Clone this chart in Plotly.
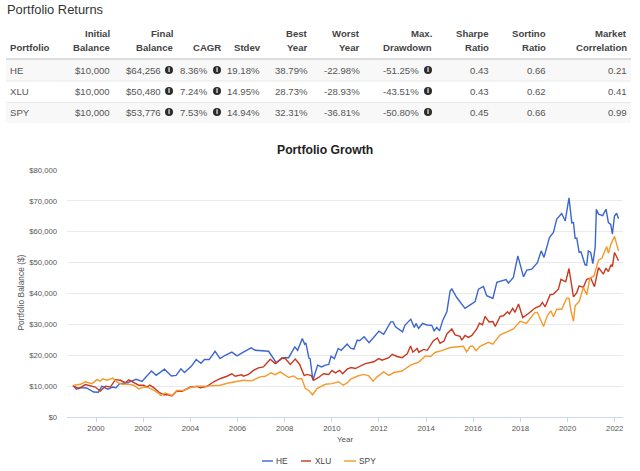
import plotly.graph_objects as go

HE_YEAR = [1999.02,1999.17,1999.3,1999.6,1999.9,2000.1,2000.25,2000.5,2000.7,2000.85,2001.0,2001.3,2001.7,2001.95,2002.35,2002.55,2002.75,2002.9,2003.2,2003.4,2003.6,2003.75,2004.05,2004.25,2004.45,2004.6,2004.8,2005.05,
2005.26,2005.48,2005.76,2005.98,2006.25,2006.58,2006.75,2007.32,2007.65,2007.93,2008.17,2008.43,2008.55,2008.75,2008.85,2008.9,2009.03,2009.08,2009.2,2009.4,2009.56,2009.73,2009.87,2009.97,2010.11,2010.27,2010.4,2010.65,2010.8,2010.94,2011.08,2011.18,2011.37,2011.58,2011.8,2012.0,2012.2,2012.5,2012.6,2012.7,2013.0,2013.1,2013.35,2013.5,2013.57,2013.68,2013.85,2014.03,2014.24,2014.34,2014.45,2014.57,2014.7,2014.88,2015.02,2015.09,2015.3,2015.51,2015.65,2015.87,2016.08,2016.22,2016.43,2016.57,2016.83,2017.0,2017.39,2017.49,2017.7,2017.89,2018.13,2018.27,2018.48,2018.72,2018.88,2019.0,2019.23,2019.4,2019.54,2019.75,2019.9,2020.06,2020.18,2020.25,2020.32,2020.39,2020.49,2020.57,2020.74,2020.81,2020.88,2020.98,2021.07,2021.17,2021.22,2021.31,2021.49,2021.63,2021.73,2021.83,2021.9,2021.99,2022.08,2022.16]
HE_K = [10.2,9.0,9.5,9.4,8.1,8.0,10.0,9.0,9.7,9.5,10.8,11.0,12.2,11.5,14.9,13.5,14.6,15.5,13.3,13.5,15.6,14.4,16.5,18.6,17.4,18.6,18.6,21.3,
18.9,20.0,21.0,19.8,21.0,22.4,21.6,21.3,17.5,19.2,19.2,22.7,21.6,25.4,23.6,24.0,19.1,18.9,11.9,16.8,16.2,16.8,17.0,19.7,18.9,22.2,21.6,23.6,22.3,22.0,24.9,24.7,26.0,24.1,26.0,27.8,26.8,30.8,30.8,29.2,27.6,29.7,31.7,29.0,30.3,28.7,30.3,29.8,29.7,27.9,29.0,27.9,31.2,34.1,40.9,41.5,38.7,36.8,35.2,36.3,37.4,41.4,42.3,39.3,38.4,43.6,44.5,43.4,45.2,52.2,45.4,47.6,47.9,50.0,53.8,51.7,58.1,59.8,64.1,65.9,63.5,71.0,62.9,63.0,57.9,57.9,53.3,53.5,49.3,49.2,53.8,53.3,49.7,54.9,67.3,65.7,65.2,67.3,63.0,62.4,59.2,65.1,66.0,64.2]

XLU_YEAR = [1999.02,1999.27,1999.55,1999.97,2000.18,2000.4,2000.61,2000.82,2001.03,2001.24,2001.39,2001.6,2001.81,2002.02,2002.16,2002.28,2002.45,2002.66,2002.87,2003.01,2003.22,2003.43,2003.65,2004.0,2004.28,2004.42,2004.71,2004.99,
2005.26,2005.55,2005.76,2005.9,2006.18,2006.25,2006.47,2006.68,2006.89,2007.1,2007.39,2007.6,2007.88,2008.03,2008.24,2008.45,2008.63,2008.83,2008.95,2009.13,2009.23,2009.44,2009.65,2009.87,2010.01,2010.15,2010.33,2010.46,2010.65,2010.82,2011.0,2011.42,2011.78,2011.99,2012.13,2012.42,2012.56,2012.77,2012.98,2013.2,2013.34,2013.44,2013.62,2013.69,2013.9,2014.05,2014.19,
2014.31,2014.48,2014.59,2014.76,2014.88,2015.09,2015.23,2015.44,2015.51,2015.65,2015.79,2015.94,2016.15,2016.26,2016.39,2016.5,2016.67,2016.83,2016.93,2017.14,2017.28,2017.45,2017.53,2017.67,2017.77,2017.92,2018.1,2018.34,2018.62,2018.83,2018.93,2019.05,2019.26,2019.4,2019.61,2019.72,2019.92,2020.06,2020.25,2020.39,2020.49,2020.67,2020.81,2020.98,2021.14,2021.31,2021.52,2021.62,2021.73,2021.84,2021.9,2021.99,2022.16]
XLU_K = [10.2,9.2,10.5,9.7,8.4,10.0,9.7,12.1,11.9,11.1,12.0,11.1,10.3,10.3,9.7,10.3,9.5,8.1,7.2,7.3,6.8,8.4,8.3,9.7,9.9,9.5,9.9,11.4,
12.4,13.2,14.0,13.2,13.7,13.2,13.8,15.1,15.9,16.2,18.7,17.3,19.1,18.9,17.0,18.8,17.1,13.4,13.8,13.4,11.9,12.8,14.0,13.8,15.1,14.3,15.1,14.0,15.5,16.0,15.7,17.3,17.9,18.9,18.4,19.2,20.3,19.6,19.2,20.5,23.0,21.0,22.2,21.0,21.9,21.6,23.2,
24.7,25.6,23.9,24.6,26.9,28.5,26.6,26.1,24.9,26.4,25.8,26.4,28.5,30.4,29.9,32.6,30.8,30.9,29.3,32.6,32.8,34.1,33.4,35.2,33.9,36.6,32.2,33.5,35.3,36.0,37.1,35.7,39.6,39.8,41.4,44.6,43.8,48.1,38.9,40.3,42.5,42.0,44.6,45.0,42.2,48.4,46.3,48.2,47.1,49.3,48.7,53.3,50.6]

SPY_YEAR = [1999.02,1999.34,1999.55,1999.83,2000.04,2000.18,2000.28,2000.47,2000.71,2000.89,2001.1,2001.39,2001.6,2001.81,2002.02,2002.23,2002.52,2002.76,2002.94,2003.22,2003.43,2003.72,2004.0,2004.28,2004.71,
2005.26,2005.62,2005.9,2006.25,2006.61,2006.96,2007.18,2007.42,2007.6,2007.81,2008.17,2008.38,2008.55,2008.73,2008.88,2009.02,2009.19,2009.37,2009.73,2010.01,2010.29,2010.48,2010.65,2010.79,2011.07,2011.35,2011.57,2011.75,2011.92,2012.2,2012.42,2012.63,2012.98,2013.34,2013.69,2013.97,2014.19,
2014.38,2014.66,2015.02,2015.58,2015.72,2015.87,2015.98,2016.12,2016.29,2016.64,2016.83,2017.14,2017.7,2017.99,2018.25,2018.62,2018.72,2018.98,2019.14,2019.29,2019.4,2019.54,2019.75,2019.96,2020.06,2020.13,2020.25,2020.32,2020.49,2020.67,2020.81,2020.95,2021.12,2021.31,2021.45,2021.66,2021.73,2021.84,2021.99,2022.16]
SPY_K = [10.2,10.6,11.4,10.8,12.1,11.6,12.4,11.9,12.6,11.4,10.6,10.6,10.3,9.1,9.7,9.5,8.4,7.0,7.8,7.0,8.6,8.6,9.5,10.0,10.0,
10.3,11.0,11.4,11.9,11.7,13.0,13.2,14.3,13.7,14.6,12.8,13.3,12.4,12.4,9.2,8.6,7.2,9.2,10.6,10.8,11.4,10.3,11.0,12.2,13.2,13.8,13.3,11.6,13.0,14.6,13.5,14.4,14.9,16.8,17.8,19.8,19.6,
20.9,21.5,22.5,22.9,21.1,22.9,22.9,21.5,22.9,24.2,23.6,26.6,28.5,31.0,30.3,33.9,33.9,29.3,32.8,34.4,32.5,34.9,34.9,38.5,38.5,34.9,31.0,36.0,37.4,42.0,39.6,45.0,45.7,50.8,51.4,55.2,53.0,56.0,58.5,53.8]

YEAR_TICKS = list(range(2000, 2024, 2))
BALANCE_TICKS = list(range(0, 90000, 10000))

TABLE_HEADER_1 = ["", "Initial", "Final", "", "", "Best", "Worst", "Max.", "Sharpe", "Sortino", "Market"]
TABLE_HEADER_2 = ["Portfolio", "Balance", "Balance", "CAGR", "Stdev", "Year", "Year", "Drawdown", "Ratio", "Ratio", "Correlation"]
ROW_HE = ["HE", "$10,000", "$64,256", "8.36%", "19.18%", "38.79%", "-22.98%", "-51.25%", "0.43", "0.66", "0.21"]
ROW_XLU = ["XLU", "$10,000", "$50,480", "7.24%", "14.95%", "28.73%", "-28.93%", "-43.51%", "0.43", "0.62", "0.41"]
ROW_SPY = ["SPY", "$10,000", "$53,776", "7.53%", "14.94%", "32.31%", "-36.81%", "-50.80%", "0.45", "0.66", "0.99"]

W, H = 640, 471
FONT = "Liberation Sans"
TXT = "#555555"
COLORS = {"HE": "#3c66cf", "XLU": "#c8391f", "SPY": "#f59a2c"}


def px(x):
    return x / W


def py(y):
    return 1 - y / H


fig = go.Figure()
for name, xs, ys in [("HE", HE_YEAR, HE_K), ("XLU", XLU_YEAR, XLU_K), ("SPY", SPY_YEAR, SPY_K)]:
    fig.add_trace(go.Scatter(x=xs, y=[v * 1000 for v in ys], name=name, mode="lines",
                             line=dict(color=COLORS[name], width=1.4), hoverinfo="skip", showlegend=False))

shapes = []
annotations = []


def rect(x0, y0, x1, y1, color):
    shapes.append(dict(type="rect", xref="paper", yref="paper", x0=px(x0), x1=px(x1), y0=py(y1), y1=py(y0),
                       fillcolor=color, line=dict(width=0), layer="below"))


def text(x, y, s, size=9.6, color=TXT, anchor="right", bold=False):
    annotations.append(dict(xref="paper", yref="paper", x=px(x), y=py(y), text=f"<b>{s}</b>" if bold else s,
                            showarrow=False, xanchor=anchor, yanchor="middle",
                            font=dict(family=FONT, size=size, color=color), borderpad=0, borderwidth=0))


rect(6, 60, 631, 81, "#f8f8f8")
rect(6, 103, 631, 123, "#f8f8f8")
rect(6, 58, 631, 60, "#dddddd")
rect(6, 80.5, 631, 81.5, "#e9e9e9")
rect(6, 102, 631, 103, "#e9e9e9")

text(7, 10, "Portfolio Returns", size=12.9, color="#333333", anchor="left")

HEAD_RIGHT = [None, 110, 173, 221, 261, 308, 360, 432, 489, 546, 627]
VAL_RIGHT = [None, 110, 161, 208, 260, 308, 360, 419, 489, 546, 627]
ROW_Y = (71, 92, 113)
for i in range(11):
    if i == 0:
        text(10, 48, TABLE_HEADER_2[0], color="#444444", anchor="left", bold=True)
        for r, y in zip((ROW_HE, ROW_XLU, ROW_SPY), ROW_Y):
            text(10, y, r[0], anchor="left")
        continue
    if TABLE_HEADER_1[i]:
        text(HEAD_RIGHT[i], 34, TABLE_HEADER_1[i], color="#444444", bold=True)
    text(HEAD_RIGHT[i], 48, TABLE_HEADER_2[i], color="#444444", bold=True)
    for r, y in zip((ROW_HE, ROW_XLU, ROW_SPY), ROW_Y):
        text(VAL_RIGHT[i], y, r[i])

for cx in (169, 217, 428):
    for y in (70, 91, 112):
        shapes.append(dict(type="circle", xref="paper", yref="paper", x0=px(cx - 4), x1=px(cx + 4),
                           y0=py(y + 4), y1=py(y - 4), fillcolor="#2b2b2b", line=dict(width=0)))
        text(cx, y, "i", size=7, color="white", anchor="center", bold=True)

text(325, 149.5, "Portfolio Growth", size=12.2, color="#222222", anchor="center", bold=True)

# Legend key
for name, x0, x1, tx in [("HE", 262, 273, 276), ("XLU", 301, 311, 315), ("SPY", 344, 356, 359)]:
    shapes.append(dict(type="line", xref="paper", yref="paper", x0=px(x0), x1=px(x1), y0=py(461), y1=py(461),
                       line=dict(color=COLORS[name], width=1.4)))
    text(tx, 461, name, size=8.4, color="#444444", anchor="left")

text(345, 439, "Year", size=8, color="#555555", anchor="center")
annotations.append(dict(xref="paper", yref="paper", x=px(20), y=py(292.5), text="Portfolio Balance ($)",
                        textangle=-90, showarrow=False, xanchor="center", yanchor="middle",
                        font=dict(family=FONT, size=8.4, color="#555555")))

fig.update_layout(
    width=W, height=H, margin=dict(l=0, r=0, t=0, b=0, autoexpand=False), paper_bgcolor="white", plot_bgcolor="white",
    shapes=shapes, annotations=annotations, showlegend=False,
    xaxis=dict(domain=[px(67), px(623)], range=[1998.77, 2022.35], tickvals=YEAR_TICKS,
               ticktext=[str(v) for v in YEAR_TICKS], showgrid=False, showline=True, linecolor="#ccd6eb",
               linewidth=1, ticks="outside", ticklen=4, tickcolor="#ccd6eb", zeroline=False,
               tickfont=dict(family=FONT, size=7.8, color="#555555")),
    yaxis=dict(domain=[py(417), py(170)], range=[0, 80000], tickvals=BALANCE_TICKS, tickformat="$,.0f",
               showgrid=True, gridcolor="#eaeaea", gridwidth=1, zeroline=False, showline=False,
               ticklabelstandoff=9,
               tickfont=dict(family=FONT, size=7.7, color="#555555"), ticks=""),
)
fig.write_html("out.html", post_script="document.body.style.margin='0';", config={"displayModeBar": False})
